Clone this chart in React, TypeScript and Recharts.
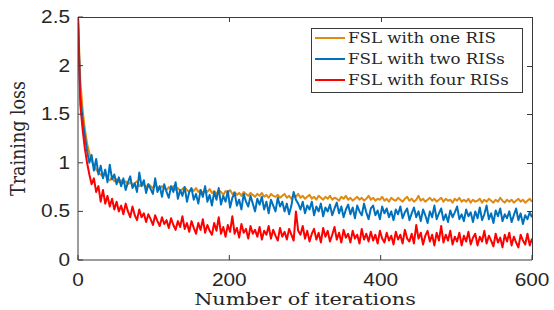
import React from "react";
import { LineChart, Line, XAxis, YAxis, Label } from "recharts";

// Iterations are sampled every ITER_STEP iterations (0..600)
const ITER_STEP = 3;

const seriesNames = ["FSL with one RIS", "FSL with two RISs", "FSL with four RISs"];
const seriesKeys = ["one", "two", "four"];
const seriesColors = ["#DF8A14", "#0072BD", "#FF0000"];

const xTicks = [0, 200, 400, 600];
const yTicks = [0, 0.5, 1, 1.5, 2, 2.5];
const X_MAX = 600;
const Y_MAX = 2.5;

const oneRIS = [
  2.5, 1.85, 1.55, 1.35, 1.2, 1.1, 1.02, 0.97, 0.93, 0.9,
  0.88, 0.86, 0.89, 0.84, 0.82, 0.85, 0.81, 0.83, 0.8, 0.82,
  0.79, 0.81, 0.78, 0.8, 0.77, 0.79, 0.81, 0.76, 0.78, 0.77,
  0.75, 0.78, 0.76, 0.74, 0.77, 0.75, 0.73, 0.76, 0.74, 0.72,
  0.75, 0.73, 0.76, 0.72, 0.74, 0.71, 0.73, 0.75, 0.72, 0.7,
  0.73, 0.71, 0.74, 0.7, 0.72, 0.69, 0.72, 0.7, 0.73, 0.69,
  0.71, 0.68, 0.72, 0.7, 0.67, 0.71, 0.69, 0.72, 0.68, 0.7,
  0.67, 0.69, 0.66, 0.7, 0.68, 0.66, 0.69, 0.67, 0.65, 0.68,
  0.66, 0.69, 0.65, 0.67, 0.64, 0.68, 0.66, 0.65, 0.67, 0.64,
  0.66, 0.68, 0.64, 0.66, 0.63, 0.67, 0.65, 0.68, 0.64, 0.66,
  0.63, 0.65, 0.67, 0.63, 0.65, 0.62, 0.66, 0.64, 0.62, 0.65,
  0.63, 0.66, 0.62, 0.64, 0.63, 0.61, 0.65, 0.63, 0.66, 0.62,
  0.64, 0.61, 0.63, 0.65, 0.62, 0.64, 0.61, 0.63, 0.66, 0.62,
  0.64, 0.61, 0.63, 0.62, 0.65, 0.61, 0.63, 0.6, 0.64, 0.62,
  0.61, 0.64, 0.62, 0.6, 0.63, 0.65, 0.61, 0.63, 0.6, 0.62,
  0.66, 0.61, 0.63, 0.6, 0.62, 0.64, 0.61, 0.63, 0.6, 0.62,
  0.64, 0.6, 0.63, 0.61, 0.62, 0.59, 0.63, 0.61, 0.64, 0.6,
  0.62, 0.6, 0.63, 0.59, 0.62, 0.6, 0.61, 0.63, 0.59, 0.62,
  0.6, 0.63, 0.61, 0.59, 0.62, 0.6, 0.64, 0.61, 0.59, 0.62,
  0.6, 0.62, 0.59, 0.61, 0.63, 0.6, 0.62, 0.59, 0.61, 0.63,
  0.6,
];

const twoRIS = [
  2.5, 1.7, 1.45, 1.28, 1.12, 1.0, 1.08, 0.92, 1.04, 0.88,
  0.97, 0.84, 0.93, 0.8, 0.98, 0.83, 0.88, 0.78, 0.85, 0.76,
  0.84, 0.72, 0.8, 0.86, 0.74, 0.79, 0.7, 0.9, 0.76, 0.82,
  0.69, 0.78, 0.73, 0.68, 0.84, 0.7, 0.76, 0.65, 0.78, 0.7,
  0.64, 0.76, 0.7, 0.8, 0.63, 0.72, 0.66, 0.75, 0.6, 0.7,
  0.74, 0.62, 0.68, 0.58, 0.72, 0.65, 0.76, 0.6, 0.67, 0.56,
  0.7, 0.62, 0.74, 0.57, 0.66, 0.6, 0.71, 0.54, 0.64, 0.69,
  0.56, 0.62, 0.52, 0.68, 0.6, 0.55, 0.66, 0.58, 0.5, 0.63,
  0.57, 0.65, 0.52, 0.6, 0.48, 0.62, 0.56, 0.5, 0.64, 0.55,
  0.6, 0.5, 0.58, 0.47, 0.56, 0.7, 0.62, 0.58, 0.52, 0.6,
  0.48, 0.56, 0.52, 0.6, 0.46, 0.55, 0.5, 0.58, 0.45, 0.54,
  0.5, 0.57, 0.46, 0.53, 0.59, 0.48, 0.55, 0.44, 0.52, 0.57,
  0.47, 0.54, 0.43, 0.56, 0.5, 0.46, 0.58, 0.49, 0.42, 0.53,
  0.56, 0.46, 0.51, 0.42, 0.55, 0.48, 0.53, 0.44, 0.5, 0.41,
  0.52, 0.47, 0.55, 0.43, 0.49, 0.53, 0.41, 0.48, 0.54, 0.44,
  0.5, 0.4, 0.52, 0.46, 0.38, 0.5, 0.44, 0.56, 0.42, 0.48,
  0.53, 0.41, 0.47, 0.39, 0.51, 0.44, 0.49, 0.55, 0.42, 0.47,
  0.4, 0.52, 0.45, 0.49, 0.39, 0.5, 0.43, 0.54, 0.41, 0.47,
  0.56, 0.42, 0.48, 0.38, 0.51, 0.45, 0.53, 0.4, 0.47, 0.43,
  0.5, 0.39, 0.46, 0.53, 0.41, 0.48, 0.37, 0.46, 0.42, 0.49,
  0.44,
];

const fourRIS = [
  2.5, 1.6, 1.35, 1.15, 1.0, 0.88, 0.78, 0.84, 0.7, 0.76,
  0.6, 0.72, 0.58, 0.66, 0.55, 0.63, 0.52, 0.6, 0.5, 0.56,
  0.47, 0.58, 0.5, 0.44, 0.55, 0.46, 0.41, 0.52, 0.44, 0.48,
  0.39, 0.47, 0.42, 0.36, 0.46, 0.4, 0.35, 0.44, 0.37, 0.41,
  0.33, 0.43, 0.36, 0.31, 0.4, 0.34, 0.45, 0.32, 0.38, 0.29,
  0.4, 0.33, 0.27, 0.38, 0.31, 0.42, 0.28, 0.36, 0.3, 0.26,
  0.38, 0.3, 0.44, 0.27, 0.34, 0.24, 0.36, 0.29, 0.45, 0.27,
  0.33, 0.23, 0.37, 0.28, 0.32, 0.22, 0.35, 0.27, 0.31, 0.24,
  0.34, 0.21, 0.3, 0.26, 0.35, 0.22, 0.31, 0.25, 0.2, 0.33,
  0.24, 0.29, 0.21, 0.32, 0.26, 0.2, 0.5, 0.3, 0.26, 0.35,
  0.22, 0.3, 0.19, 0.27, 0.32, 0.21, 0.28, 0.18, 0.33, 0.24,
  0.3, 0.19, 0.26, 0.34, 0.21, 0.28, 0.18, 0.31, 0.23, 0.27,
  0.18, 0.3, 0.22, 0.26, 0.17, 0.32, 0.21, 0.27, 0.19, 0.29,
  0.2, 0.26, 0.17, 0.3, 0.22, 0.18, 0.28, 0.2, 0.25, 0.16,
  0.29, 0.21, 0.26, 0.17, 0.31, 0.22, 0.19, 0.27, 0.17, 0.36,
  0.22, 0.28, 0.16, 0.25, 0.3, 0.19, 0.26, 0.15, 0.28, 0.2,
  0.35, 0.18, 0.26, 0.2, 0.3, 0.16, 0.24, 0.19, 0.28, 0.15,
  0.25, 0.19, 0.29, 0.16, 0.23, 0.27, 0.15, 0.24, 0.19, 0.3,
  0.17, 0.25, 0.2, 0.14, 0.27, 0.18, 0.23, 0.13, 0.26, 0.19,
  0.28, 0.15, 0.24, 0.18, 0.13, 0.26, 0.2, 0.16, 0.27, 0.15,
  0.22,
];

const data = oneRIS.map((v, i) => ({
  iter: i * ITER_STEP,
  one: v,
  two: twoRIS[i],
  four: fourRIS[i],
}));

// chart geometry (shared by the chart margins and the frame overlay)
const W = 554;
const H = 310;
const M_TOP = 17;
const M_RIGHT = 22;
const Y_AXIS_W = 78;
const X_AXIS_H = 50;
const PLOT_L = Y_AXIS_W;
const PLOT_R = W - M_RIGHT;
const PLOT_T = M_TOP;
const PLOT_B = H - X_AXIS_H;

const AXIS = "#3a3a3a";
const TXT = "#262626";
const SX = 1.19;
const SANS = "'Liberation Sans', Arial, Helvetica, sans-serif";
const SERIF = "'DejaVu Serif', serif";
const TICK_LEN = 5;

const BottomTick = (p: any) => {
  const { x, y, payload } = p;
  return (
    <g>
      <line x1={x} x2={x} y1={y} y2={y - TICK_LEN} stroke={AXIS} strokeWidth={1} />
      <text
        transform={`translate(${x},${y + 26}) scale(${SX},1)`}
        textAnchor="middle"
        fontFamily={SANS}
        fontSize={17.5}
        fill={TXT}
      >
        {payload.value}
      </text>
    </g>
  );
};

const LeftTick = (p: any) => {
  const { x, y, payload } = p;
  return (
    <g>
      <line x1={x} x2={x + TICK_LEN} y1={y} y2={y} stroke={AXIS} strokeWidth={1} />
      <text
        transform={`translate(${x - 8},${y}) scale(${SX},1)`}
        textAnchor="end"
        dominantBaseline="central"
        fontFamily={SANS}
        fontSize={17.5}
        fill={TXT}
      >
        {String(payload.value)}
      </text>
    </g>
  );
};

const XTitle = (p: any) => {
  const vb = p.viewBox || { x: PLOT_L, y: PLOT_B, width: PLOT_R - PLOT_L, height: X_AXIS_H };
  return (
    <text
      transform={`translate(${vb.x + vb.width / 2},${vb.y + 45}) scale(${SX},1)`}
      textAnchor="middle"
      fontFamily={SERIF}
      fontSize={17.5}
      fill={TXT}
    >
      Number of iterations
    </text>
  );
};

const YTitle = (p: any) => {
  const vb = p.viewBox || { x: 0, y: PLOT_T, width: Y_AXIS_W, height: PLOT_B - PLOT_T };
  return (
    <text
      transform={`translate(25,${vb.y + vb.height / 2}) scale(${SX},1) rotate(-90)`}
      textAnchor="middle"
      fontFamily={SERIF}
      fontSize={17.5}
      fill={TXT}
    >
      Training loss
    </text>
  );
};

// MATLAB-style box: top / right border with inward ticks
const Frame = () => {
  const px = (v: number) => PLOT_L + ((PLOT_R - PLOT_L) * v) / X_MAX;
  const py = (v: number) => PLOT_B - ((PLOT_B - PLOT_T) * v) / Y_MAX;
  return (
    <>
      <div
        style={{
          position: "absolute",
          left: PLOT_L,
          top: PLOT_T,
          width: PLOT_R - PLOT_L + 1,
          height: PLOT_B - PLOT_T,
          borderTop: `1px solid ${AXIS}`,
          borderRight: `1px solid ${AXIS}`,
          boxSizing: "border-box",
          pointerEvents: "none",
        }}
      />
      {xTicks.slice(1, -1).map((t) => (
        <div
          key={`tx${t}`}
          style={{
            position: "absolute",
            left: Math.round(px(t)),
            top: PLOT_T,
            width: 1,
            height: TICK_LEN,
            background: AXIS,
          }}
        />
      ))}
      {yTicks.slice(1, -1).map((t) => (
        <div
          key={`ty${t}`}
          style={{
            position: "absolute",
            left: PLOT_R - TICK_LEN,
            top: Math.round(py(t)),
            width: TICK_LEN,
            height: 1,
            background: AXIS,
          }}
        />
      ))}
    </>
  );
};

const LegendBox = () => {
  const rowY = [38, 59, 80];
  return (
    <svg
      width={W}
      height={H}
      style={{ position: "absolute", left: 0, top: 0, pointerEvents: "none" }}
    >
      <line x1={PLOT_L} x2={PLOT_R + 1} y1={PLOT_T + 0.5} y2={PLOT_T + 0.5} stroke={AXIS} strokeWidth={1} />
      <line x1={PLOT_R + 0.5} x2={PLOT_R + 0.5} y1={PLOT_T} y2={PLOT_B} stroke={AXIS} strokeWidth={1} />
      <rect x={311.5} y={28.5} width={211} height={64} fill="#ffffff" stroke={AXIS} strokeWidth={1} />
      {seriesNames.map((name, i) => (
        <g key={name}>
          <line x1={315} x2={345} y1={rowY[i]} y2={rowY[i]} stroke={seriesColors[i]} strokeWidth={2} />
          <text
            transform={`translate(348,${rowY[i]}) scale(${SX},1)`}
            dominantBaseline="central"
            fontFamily={SERIF}
            fontSize={14}
            fill={TXT}
          >
            {name}
          </text>
        </g>
      ))}
    </svg>
  );
};

export default function App() {
  return (
    <div style={{ position: "absolute", left: 0, top: 0, width: W, height: H, background: "#fff" }}>
      <LineChart
        width={W}
        height={H}
        data={data}
        margin={{ top: M_TOP, right: M_RIGHT, bottom: 0, left: 0 }}
      >
        <XAxis
          dataKey="iter"
          type="number"
          domain={[0, X_MAX]}
          ticks={xTicks}
          allowDataOverflow
          height={X_AXIS_H}
          stroke={AXIS}
          tickSize={0}
          tickMargin={0}
          tick={BottomTick}
          interval={0}
        >
          <Label content={XTitle} />
        </XAxis>
        <YAxis
          type="number"
          domain={[0, Y_MAX]}
          ticks={yTicks}
          allowDataOverflow
          width={Y_AXIS_W}
          stroke={AXIS}
          tickSize={0}
          tickMargin={0}
          tick={LeftTick}
          interval={0}
        >
          <Label content={YTitle} />
        </YAxis>
        {seriesKeys.map((k, i) => (
          <Line
            key={k}
            type="linear"
            dataKey={k}
            name={seriesNames[i]}
            stroke={seriesColors[i]}
            strokeWidth={2}
            strokeLinejoin="round"
            dot={false}
            activeDot={false}
            isAnimationActive={false}
          />
        ))}
      </LineChart>
      <Frame />
      <LegendBox />
    </div>
  );
}
